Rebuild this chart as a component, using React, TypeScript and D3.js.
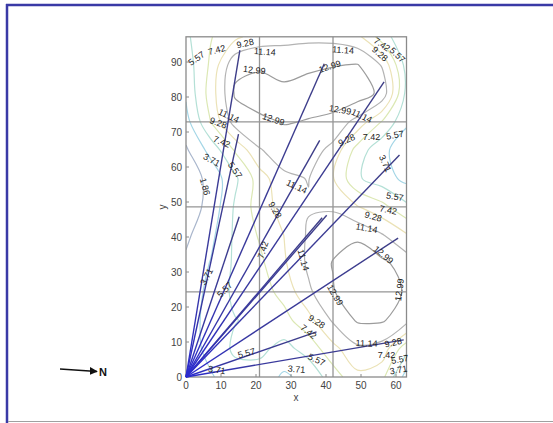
import { useRef, useEffect } from "react";
import * as d3 from "d3";

// grid of the field (x columns, y rows)
const gridX = [0, 7, 14, 21, 28, 35, 42, 49, 56, 63];
const gridY = [0, 8.1, 16.2, 24.3, 32.4, 40.5, 48.6, 56.7, 64.8, 72.9, 81, 89.1, 97.2];
// rows from y = 0 upward
const zRows = [
  [2.4, 3.5, 4.8, 4.8, 3.4, 4.3, 6.5, 8.8, 8.0, 2.8],
  [2.7, 4.3, 5.9, 6.0, 5.0, 6.3, 8.7, 10.8, 10.4, 6.2],
  [2.9, 4.3, 5.5, 6.0, 6.8, 8.6, 11.4, 13.2, 13.2, 11.8],
  [2.6, 4.2, 6.0, 6.6, 8.0, 10.8, 12.8, 14.8, 14.2, 12.7],
  [2.2, 3.8, 5.9, 7.0, 9.0, 11.5, 13.1, 14.2, 13.4, 12.2],
  [1.5, 3.2, 5.9, 7.6, 9.3, 11.4, 12.3, 12.6, 11.3, 9.5],
  [0.9, 2.4, 5.8, 8.3, 10.0, 11.0, 10.9, 9.4, 8.0, 6.0],
  [0.8, 2.4, 5.2, 8.3, 10.8, 11.2, 9.4, 5.8, 4.6, 3.2],
  [1.6, 4.3, 7.6, 11.0, 12.0, 12.0, 10.6, 6.6, 4.2, 2.6],
  [3.0, 7.4, 12.0, 12.6, 13.1, 12.9, 12.4, 10.5, 7.3, 4.0],
  [4.0, 8.2, 13.2, 13.9, 13.4, 13.7, 14.2, 14.0, 12.5, 5.0],
  [4.6, 7.7, 12.6, 12.7, 12.4, 12.7, 12.9, 13.1, 11.0, 4.8],
  [5.2, 7.3, 8.8, 10.3, 10.6, 10.7, 10.6, 9.8, 6.5, 4.0],
];

const levels = [1.86, 3.71, 5.57, 7.42, 9.28, 11.14, 12.99];
const levelColors = ["#a9b6cc", "#a4d6e6", "#b4e0d6", "#dce8b4", "#ebe2b6", "#b3b3b3", "#9c9c9c"];

// end points of the rays drawn from the origin
const rayEnds: [number, number][] = [
  [15.4, 93.4],
  [15.0, 69.4],
  [15.2, 45.8],
  [39.5, 89.5],
  [38.2, 67.6],
  [56.6, 84.3],
  [61.0, 63.4],
  [38.9, 45.5],
  [40.2, 46.2],
  [60.6, 39.7],
  [37.3, 12.9],
  [62.2, 10.6],
];

// contour labels: text, x, y, angle
const contourLabels: [string, number, number, number][] = [
  ["5.57", 3.0, 91, -35],
  ["7.42", 8.8, 93.4, -15],
  ["9.28", 16.9, 95.3, -12],
  ["11.14", 22.5, 92.9, 4],
  ["12.99", 19.5, 87.7, 6],
  ["12.99", 41.1, 88.7, -18],
  ["11.14", 44.9, 93.4, 4],
  ["9.28", 55.4, 92.3, 40],
  ["7.42", 56.0, 95.0, 35],
  ["5.57", 60.4, 92.0, 45],
  ["11.14", 12.2, 74.6, 25],
  ["9.28", 9.2, 72.6, 20],
  ["12.99", 25.0, 73.6, 18],
  ["7.42", 10.2, 67.2, 22],
  ["3.71", 7.3, 62, 28],
  ["5.57", 14.0, 59.1, 55],
  ["1.86", 5.4, 54.4, 75],
  ["12.99", 44.0, 76.3, 10],
  ["11.14", 50.2, 74.6, 25],
  ["9.28", 45.9, 67.7, -25],
  ["7.42", 53.0, 68.7, 0],
  ["5.57", 59.7, 69.1, -10],
  ["3.71", 56.9, 61, 65],
  ["11.14", 31.6, 54.4, 25],
  ["9.28", 25.4, 47.7, 60],
  ["7.42", 22.0, 36.3, -72],
  ["11.14", 33.5, 33.4, 75],
  ["5.57", 59.7, 51.5, 10],
  ["7.42", 57.8, 47.7, 12],
  ["9.28", 53.5, 45.8, 15],
  ["11.14", 51.6, 42.5, 10],
  ["12.99", 56.4, 34.9, 40],
  ["12.99", 61.0, 24.9, -82],
  ["12.99", 42.6, 23.4, 60],
  ["3.71", 5.9, 28.7, -62],
  ["5.57", 11.1, 24.9, -45],
  ["9.28", 37.3, 15.8, 32],
  ["7.42", 35.0, 12.9, 38],
  ["5.57", 17.3, 6.8, -15],
  ["3.71", 8.8, 2.0, 8],
  ["5.57", 37.3, 4.9, 25],
  ["3.71", 31.6, 2.2, 5],
  ["11.14", 51.6, 9.6, 2],
  ["9.28", 59.2, 9.8, -12],
  ["7.42", 57.3, 6.3, 0],
  ["5.57", 61.1, 5.0, -10],
  ["3.71", 60.7, 2.0, -10],
];

const xTicks = [0, 10, 20, 30, 40, 50, 60];
const yTicks = [0, 10, 20, 30, 40, 50, 60, 70, 80, 90];
const xGrid = [21, 42];
const yGrid = [24.3, 48.6, 72.9];

export default function App() {
  const svgRef = useRef<SVGSVGElement>(null);

  useEffect(() => {
    if (!svgRef.current) return;
    const svg = d3.select(svgRef.current);
    svg.selectAll("*").remove();

    const width = 553;
    const height = 423;
    const font = "'Liberation Sans', Arial, sans-serif";

    const x = d3.scaleLinear().domain([0, 63]).range([186, 406.5]);
    const y = d3.scaleLinear().domain([0, 97.2]).range([377, 36.8]);

    svg.append("rect").attr("width", width).attr("height", height).attr("fill", "#fff");

    // page frame
    svg.append("line").attr("x1", 6).attr("x2", width).attr("y1", 5).attr("y2", 5)
      .attr("stroke", "#3a3aa6").attr("stroke-width", 2.5);
    svg.append("line").attr("x1", 7).attr("x2", 7).attr("y1", 4).attr("y2", height)
      .attr("stroke", "#3a3aa6").attr("stroke-width", 2.5);
    svg.append("line").attr("x1", 8).attr("x2", width).attr("y1", 421.5).attr("y2", 421.5)
      .attr("stroke", "#a0a0a0").attr("stroke-width", 1);

    const defs = svg.append("defs");
    defs.append("clipPath").attr("id", "plotclip")
      .append("rect")
      .attr("x", x(0)).attr("y", y(97.2))
      .attr("width", x(63) - x(0)).attr("height", y(0) - y(97.2));

    // Contours
    const nx = gridX.length;
    const ny = gridY.length;
    const values = zRows.flat();
    const cx = d3.scaleLinear().domain([0.5, nx - 0.5]).range([gridX[0], gridX[nx - 1]]);
    const cy = d3.scaleLinear().domain([0.5, ny - 0.5]).range([gridY[0], gridY[ny - 1]]);
    const eps = 1e-6;
    const isIn = (p: number[]) =>
      p[0] >= 0.5 - eps && p[0] <= nx - 0.5 + eps && p[1] >= 0.5 - eps && p[1] <= ny - 0.5 + eps;

    const contours = d3.contours().size([nx, ny]).thresholds(levels)(values);

    const openLine = d3.line<number[]>()
      .x((p) => x(cx(p[0])))
      .y((p) => y(cy(p[1])))
      .curve(d3.curveCatmullRom.alpha(0.5));
    const closedLine = d3.line<number[]>()
      .x((p) => x(cx(p[0])))
      .y((p) => y(cy(p[1])))
      .curve(d3.curveCatmullRomClosed.alpha(0.5));

    const cg = svg.append("g").attr("clip-path", "url(#plotclip)");
    contours.forEach((c, li) => {
      const color = levelColors[levels.indexOf(c.value)] ?? levelColors[li];
      c.coordinates.forEach((poly) => {
        poly.forEach((ring) => {
          const pts = ring.slice(0, -1) as number[][];
          const inside = pts.map(isIn);
          if (inside.every(Boolean)) {
            cg.append("path").attr("d", closedLine(pts))
              .attr("fill", "none").attr("stroke", color).attr("stroke-width", 1.2);
            return;
          }
          const start = inside.findIndex((v) => !v);
          let cur: number[][] = [];
          const runs: number[][][] = [];
          for (let k = 1; k <= pts.length; k++) {
            const idx = (start + k) % pts.length;
            if (inside[idx]) cur.push(pts[idx]);
            else {
              if (cur.length > 1) runs.push(cur);
              cur = [];
            }
          }
          if (cur.length > 1) runs.push(cur);
          runs.forEach((r) => {
            cg.append("path").attr("d", openLine(r))
              .attr("fill", "none").attr("stroke", color).attr("stroke-width", 1.2);
          });
        });
      });
    });

    // Grid lines
    svg.append("g").selectAll("line").data(xGrid).join("line")
      .attr("x1", (d) => x(d)).attr("x2", (d) => x(d))
      .attr("y1", y(0)).attr("y2", y(97.2))
      .attr("stroke", "#959595").attr("stroke-width", 1.3);
    svg.append("g").selectAll("line").data(yGrid).join("line")
      .attr("x1", x(0)).attr("x2", x(63))
      .attr("y1", (d) => y(d)).attr("y2", (d) => y(d))
      .attr("stroke", "#959595").attr("stroke-width", 1.3);

    // Frame
    svg.append("rect")
      .attr("x", x(0)).attr("y", y(97.2))
      .attr("width", x(63) - x(0)).attr("height", y(0) - y(97.2))
      .attr("fill", "none").attr("stroke", "#8a8a8a").attr("stroke-width", 1.3);

    // Ticks (inside)
    svg.append("g").selectAll("line").data(xTicks).join("line")
      .attr("x1", (d) => x(d)).attr("x2", (d) => x(d))
      .attr("y1", y(0)).attr("y2", y(0) - 3)
      .attr("stroke", "#8a8a8a");
    svg.append("g").selectAll("line").data(yTicks).join("line")
      .attr("x1", x(0)).attr("x2", x(0) + 3)
      .attr("y1", (d) => y(d)).attr("y2", (d) => y(d))
      .attr("stroke", "#8a8a8a");

    // Rays: brighter blue near the origin where they bunch up
    rayEnds.forEach((d, i) => {
      const grad = defs.append("linearGradient")
        .attr("id", `ray${i}`)
        .attr("gradientUnits", "userSpaceOnUse")
        .attr("x1", x(0)).attr("y1", y(0))
        .attr("x2", x(d[0])).attr("y2", y(d[1]));
      grad.append("stop").attr("offset", "0%").attr("stop-color", "#2a2ad0");
      grad.append("stop").attr("offset", "30%").attr("stop-color", "#3838a0");
      grad.append("stop").attr("offset", "100%").attr("stop-color", "#3e3e86");
    });
    const ray = d3.line<[number, number]>().x((d) => x(d[0])).y((d) => y(d[1]));
    svg.append("g").selectAll("path").data(rayEnds).join("path")
      .attr("d", (d) => ray([[0, 0], d]))
      .attr("fill", "none")
      .attr("stroke", (_, i) => `url(#ray${i})`)
      .attr("stroke-width", 1.4);

    // Contour labels
    svg.append("g").selectAll("text").data(contourLabels).join("text")
      .attr("transform", (d) => `translate(${x(d[1])},${y(d[2])}) rotate(${d[3]})`)
      .attr("text-anchor", "middle")
      .attr("dominant-baseline", "central")
      .attr("font-family", font)
      .attr("font-size", "9px")
      .attr("fill", "#222")
      .text((d) => d[0]);

    // Tick labels
    svg.append("g").selectAll("text").data(xTicks).join("text")
      .attr("x", (d) => x(d)).attr("y", 389)
      .attr("text-anchor", "middle")
      .attr("font-family", font).attr("font-size", "10px").attr("fill", "#444")
      .text((d) => d);
    svg.append("g").selectAll("text").data(yTicks).join("text")
      .attr("x", 182).attr("y", (d) => y(d) + 3.5)
      .attr("text-anchor", "end")
      .attr("font-family", font).attr("font-size", "10px").attr("fill", "#444")
      .text((d) => d);

    // Axis labels
    svg.append("text").attr("x", 296).attr("y", 401)
      .attr("text-anchor", "middle").attr("font-family", font).attr("font-size", "10px")
      .attr("fill", "#444").text("x");
    svg.append("text").attr("transform", "translate(166,207) rotate(-90)")
      .attr("text-anchor", "middle").attr("font-family", font).attr("font-size", "10px")
      .attr("fill", "#444").text("y");

    // North arrow
    defs.append("marker").attr("id", "arrow")
      .attr("viewBox", "0 0 10 10").attr("refX", 9).attr("refY", 5)
      .attr("markerWidth", 5).attr("markerHeight", 5).attr("orient", "auto")
      .append("path").attr("d", "M0,0 L10,5 L0,10 z").attr("fill", "#111");
    svg.append("line").attr("x1", 60).attr("y1", 369).attr("x2", 97).attr("y2", 371.5)
      .attr("stroke", "#111").attr("stroke-width", 1.6).attr("marker-end", "url(#arrow)");
    svg.append("text").attr("x", 99).attr("y", 376)
      .attr("font-family", font).attr("font-size", "11px").attr("font-weight", "bold")
      .attr("fill", "#111").text("N");
  }, []);

  return (
    <svg
      ref={svgRef}
      width={553}
      height={423}
      style={{ position: "absolute", left: 0, top: 0 }}
    />
  );
}
